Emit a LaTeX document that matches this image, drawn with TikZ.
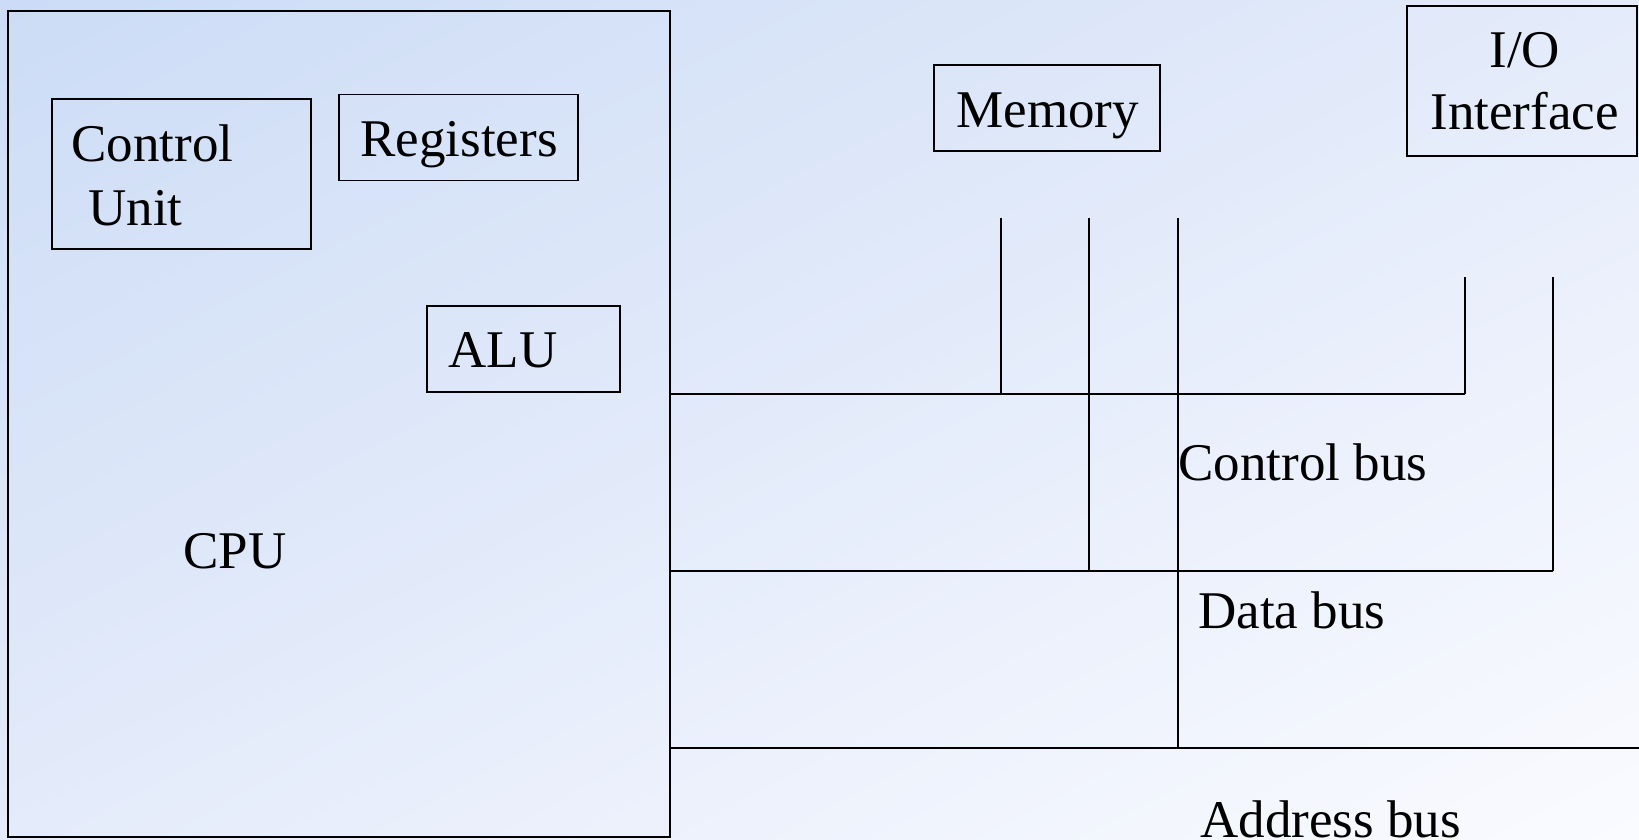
\documentclass[tikz,border=0pt]{standalone}
\usepackage{fontspec}
\setmainfont{Liberation Serif}
\usetikzlibrary{shadings}
\definecolor{bgA}{RGB}{204,220,246}
\definecolor{bgB}{RGB}{228,235,250}
\definecolor{bgC}{RGB}{250,251,255}
\begin{document}
\begin{tikzpicture}[x=0.5pt,y=-0.5pt,
  box/.style={draw,line width=0.75pt,inner sep=0pt,outer sep=0pt,anchor=north west},
  lbl/.style={anchor=base west,inner sep=0pt,font=\fontsize{26.5}{31}\selectfont},
  bus/.style={line width=1pt},
  tap/.style={line width=0.75pt}]
\useasboundingbox (0,0) rectangle (1639,840);
% background
\shade[upper left=bgA, upper right=bgB, lower left=bgB, lower right=bgC]
  (0,0) rectangle (1639,840);

% processor and its parts
\node[box,minimum width=331pt,minimum height=413pt] (cpu) at (8,11) {};
\node[box,minimum width=129.5pt,minimum height=75pt] (cu) at (52,99) {};
\node[box,minimum width=119.5pt,minimum height=43pt] (reg) at (339,94.3) {};
\node[box,minimum width=96.5pt,minimum height=43pt] (alu) at (427,306) {};
% memory and I/O
\node[box,minimum width=113pt,minimum height=43pt] (mem) at (934,65) {};
\node[box,minimum width=115pt,minimum height=75pt] (io) at (1407,6) {};

% labels
\node[lbl] (tcu1) at (71,162) {Control};
\node[lbl] (tcu2) at (88,225) {Unit};
\node[lbl] (treg) at (360,156) {Registers};
\node[lbl] (talu) at (448,367) {ALU};
\node[lbl] (tcpu) at (183,568) {CPU};
\node[lbl] (tmem) at (956,127) {Memory};
\node[lbl] (tio1) at (1489,68) {I/O};
\node[lbl] (tio2) at (1430,130) {Interface};
\node[lbl] (tcb) at (1178,480) {Control bus};
\node[lbl] (tdb) at (1198,628) {Data bus};
\node[lbl] (tab) at (1200,837) {Address bus};

% bus junctions
\coordinate (cbM) at (1001,394);
\coordinate (cbI) at (1465,394);
\coordinate (dbM) at (1089,571);
\coordinate (dbI) at (1553,571);
\coordinate (abM) at (1178,748);
\coordinate (abE) at (1639,748);
% tap tops
\coordinate (mt1) at (1001,218);
\coordinate (mt2) at (1089,218);
\coordinate (mt3) at (1178,218);
\coordinate (it1) at (1465,277);
\coordinate (it2) at (1553,277);

% buses
\draw[bus] (cpu.east |- cbI) -- (cbI);
\draw[bus] (cpu.east |- dbI) -- (dbI);
\draw[bus] (cpu.east |- abE) -- (abE);
% taps from memory and I/O
\draw[tap] (mt1) -- (cbM);
\draw[tap] (mt2) -- (dbM);
\draw[tap] (mt3) -- (abM);
\draw[tap] (it1) -- (cbI);
\draw[tap] (it2) -- (dbI);
\end{tikzpicture}
\end{document}
